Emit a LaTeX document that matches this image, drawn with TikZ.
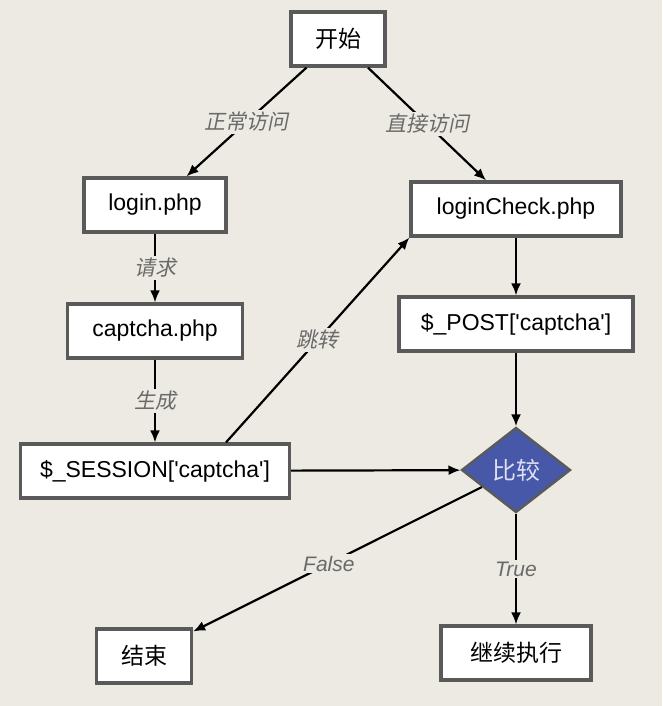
\documentclass[tikz,border=0pt]{standalone}
\usepackage{fontspec}
\setmainfont{Liberation Sans}
\newfontfamily\cjk{Noto Sans CJK SC}
\newfontfamily\cjkit[FakeSlant=0.2]{Noto Sans CJK SC}
\usetikzlibrary{arrows.meta, shapes.geometric}

\definecolor{bggray}{HTML}{ECEAE2}
\definecolor{boxgray}{HTML}{5A5A5A}
\definecolor{labgray}{HTML}{6A6A6A}
\definecolor{cmpblue}{HTML}{4858A8}
\definecolor{cmptext}{HTML}{DDE0F5}

\tikzset{
	box/.style={draw=boxgray, line width=3.2pt, fill=white, rectangle, minimum height=54pt, inner sep=0pt, font=\fontsize{23}{27}\selectfont},
	flow/.style={line width=2.2pt, -{Latex[length=12pt,width=10pt]}},
	lab/.style={fill=bggray, text=labgray, inner sep=2pt, font=\fontsize{21}{25}\selectfont\itshape}
}

\begin{document}
\begin{tikzpicture}[x=1pt, y=-1pt]
			\fill[bggray] (0,0) rectangle (662,706);
			\useasboundingbox (0,0) rectangle (662,706);
			
			\node(start) [box, minimum width=94pt] at (338,39){\cjk 开始};
			\node(login) [box, minimum width=142pt] at (155,205){login.php};
			\node(chk) [box, minimum width=210pt] at (516,209){loginCheck.php};
			\node(cap) [box, minimum width=175pt] at (155,331){captcha.php};
			\node(post) [box, minimum width=234pt] at (516,324){\$\_POST[\textquotesingle captcha\textquotesingle]};
			\node(sess) [box, minimum width=269pt] at (155,471){\$\_SESSION[\textquotesingle captcha\textquotesingle]};
			\node(cmp) [diamond, draw=boxgray, line width=2.4pt, fill=cmpblue, text=cmptext, minimum width=109pt, minimum height=85pt, inner sep=0pt, font=\fontsize{24}{28}\selectfont\cjk] at (516,470){比较};
			\node(end) [box, minimum width=95pt] at (144,656){\cjk 结束};
			\node(cont) [box, minimum width=150pt] at (516,653){\cjk 继续执行};
			
			\draw[flow] (start) -- node[lab]{\cjkit 正常访问} (login);
			\draw[flow] (start) -- node[lab]{\cjkit 直接访问} (chk);
			\draw[flow] (login) -- node[lab]{\cjkit 请求} (cap);
			\draw[flow] (cap) -- node[lab]{\cjkit 生成} (sess);
			\draw[flow] ([xshift=71pt]sess.north) -- node[lab, pos=0.5]{\cjkit 跳转} (chk.south west);
			\draw[flow] (chk) -- (post);
			\draw[flow] (post) -- (cmp);
			\draw[flow] (sess) -- (cmp);
			\draw[flow] (cmp) -- node[lab, pos=0.53]{False} (end);
			\draw[flow] (cmp) -- node[lab, pos=0.5]{True} (cont);
			
		\end{tikzpicture}
\end{document}
